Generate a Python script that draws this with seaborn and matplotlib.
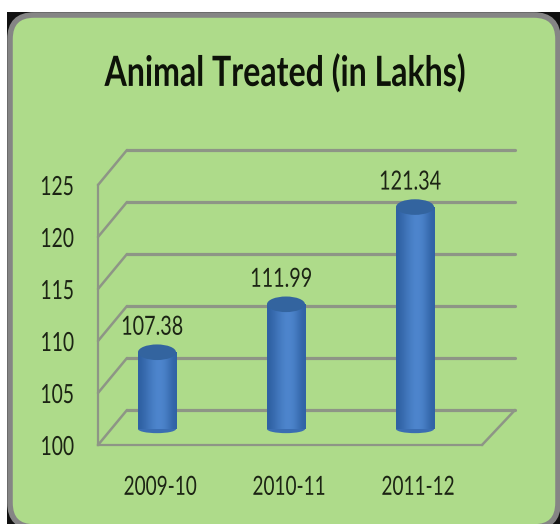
import matplotlib
matplotlib.use("Agg")
import matplotlib.pyplot as plt
import numpy as np
import pandas as pd
import seaborn as sns
from matplotlib.patches import FancyBboxPatch, Rectangle, Ellipse, ConnectionPatch
from matplotlib.colors import LinearSegmentedColormap
from matplotlib.patheffects import AbstractPathEffect
from matplotlib.transforms import Affine2D

years = ["2009-10", "2010-11", "2011-12"]
treated = [107.38, 111.99, 121.34]
y_ticks = [100, 105, 110, 115, 120, 125]
title = "Animal Treated (in Lakhs)"

W, H = 560, 524
GREEN = "#AEDB8A"
GRID = "#8E9586"
TXT = "#1c2414"
FONT = ["Lato", "Open Sans", "DejaVu Sans"]

sns.set_theme(style="white")
plt.rcParams["font.family"] = FONT


class Condense(AbstractPathEffect):
    """Narrow a text horizontally about its own centre (the reference font is condensed)."""
    def __init__(self, k, dx=0):
        super().__init__()
        self.k, self.dx = k, dx

    def draw_path(self, renderer, gc, tpath, affine, rgbFace=None):
        ext = tpath.get_extents(affine)
        cx = (ext.x0 + ext.x1) / 2
        t = affine + Affine2D().translate(-cx, 0).scale(self.k, 1).translate(cx + self.dx, 0)
        renderer.draw_path(gc, tpath, t, rgbFace)


def box(l, t, r, b):
    return [l / W, 1 - b / H, (r - l) / W, (b - t) / H]

fig = plt.figure(figsize=(W / 100, H / 100), dpi=100, facecolor="white")

# panel
bg = fig.add_axes([0, 0, 1, 1], zorder=0)
bg.set_xlim(0, W); bg.set_ylim(H, 0); bg.axis("off")
bg.add_patch(Rectangle((7, 12), W - 7, H - 12, fc="#111111", ec="none"))
R = 24
bg.add_patch(FancyBboxPatch((10 + R, 15 + R), 558 - 10 - 2 * R, 527 - 15 - 2 * R,
             boxstyle=f"round,pad={R},rounding_size={R}", fc=GREEN, ec="#858585", lw=4.0))

# back wall
back = fig.add_axes(box(127, 150, 515, 410), zorder=1)
back.set_ylim(100, 125); back.set_yticks(y_ticks); back.set_xticks([])
back.patch.set_alpha(0)
sns.despine(ax=back, left=True, bottom=True, right=True, top=True)
back.grid(True, axis="y", color=GRID, lw=2.3)
for gl in back.get_ygridlines():
    gl.set_clip_on(False)
back.tick_params(left=False, labelleft=False)

# front wall + floor
wall = fig.add_axes(box(98, 185, 482, 445), zorder=2)
wall.set_ylim(100, 125); wall.set_yticks(y_ticks); wall.set_xticks([])
wall.patch.set_alpha(0)
sns.despine(ax=wall, right=True, top=True)
for s in ("left", "bottom"):
    wall.spines[s].set_color(GRID); wall.spines[s].set_linewidth(1.6)
wall.tick_params(axis="y", left=False, pad=7, labelsize=19, labelcolor=TXT)
for lab in wall.get_yticklabels():
    lab.set_path_effects([Condense(0.73)])
for v in y_ticks:
    wall.add_artist(ConnectionPatch((0, v), (0, v), coordsA=wall.get_yaxis_transform(),
                                    coordsB=back.get_yaxis_transform(),
                                    color=GRID, lw=1.8))
wall.add_artist(ConnectionPatch((1, 100), (1, 100), coordsA=wall.get_yaxis_transform(),
                                coordsB=back.get_yaxis_transform(), color=GRID, lw=1.8))

# bars
ax = fig.add_axes(box(92.5, 169, 479.5, 429), zorder=3)
ax.patch.set_alpha(0)
df = pd.DataFrame({"year": years, "treated": treated})
sns.barplot(data=df, x="year", y="treated", ax=ax, width=0.295, color="#3F72B8",
            saturation=1, linewidth=0)
ax.set_xlabel(""); ax.set_ylabel(""); ax.set_yticks([])
sns.despine(ax=ax, left=True, bottom=True, right=True, top=True)
ax.tick_params(axis="x", bottom=False, pad=27, labelsize=19, labelcolor=TXT)
for lab in ax.get_xticklabels():
    lab.set_path_effects([Condense(0.72, dx=3)])

grad = np.array([[0.0, 0.25, 0.55, 0.8, 1.0, 0.95, 0.75, 0.35, 0.05]])
cmap = LinearSegmentedColormap.from_list("c", ["#2F61A3", "#4E86CE"])
for p, v in zip(list(ax.patches), treated):
    x0, w = p.get_x(), p.get_width()
    im = ax.imshow(grad, extent=(x0, x0 + w, 100, v), aspect="auto", cmap=cmap,
                   vmin=0, vmax=1, interpolation="bicubic", zorder=3)
    im.set_clip_on(False)
    ax.add_patch(Ellipse((x0 + w / 2, 100), w, 0.8, fc="#3A6DB2", ec="none", zorder=2.9, clip_on=False))
    ax.add_patch(Ellipse((x0 + w / 2, v), w, 1.5, fc="#33649F", ec="none", zorder=4, clip_on=False))
    ann = ax.annotate(f"{v:.2f}", (x0 + w / 2, v), xytext=(-3.6, 18), textcoords="offset points",
                      ha="center", va="center", fontsize=19, color=TXT, zorder=5)
    ann.set_path_effects([Condense(0.75)])
ax.set_xlim(-0.5, 2.5); ax.set_ylim(100, 125)

t = fig.text(285 / W, 1 - 73 / H, title, ha="center", va="center", fontsize=30,
             fontweight="bold", color="#0d1208", zorder=6)
t.set_path_effects([Condense(0.77)])

fig.savefig("out.png", dpi=100, facecolor="white")
